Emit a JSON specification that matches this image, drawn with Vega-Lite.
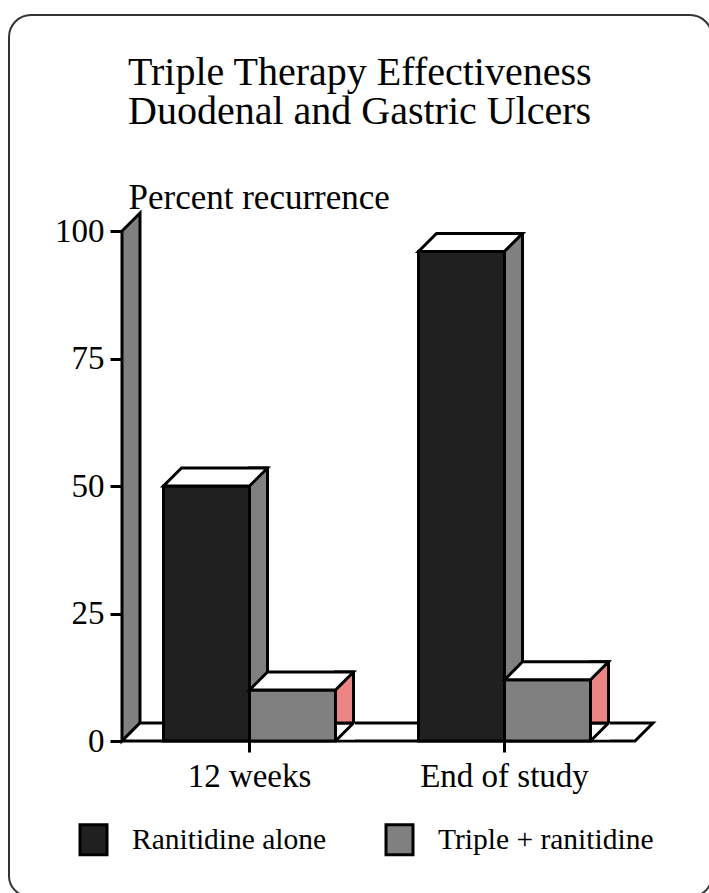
{
  "$schema": "https://vega.github.io/schema/vega-lite/v6.json",
  "width": 510,
  "height": 510,
  "autosize": "none",
  "padding": {"left": 122, "top": 231, "right": 77, "bottom": 152},
  "background": "white",
  "config": {
    "view": {"stroke": null},
    "font": "Liberation Serif",
    "axis": {"domain": false, "grid": false, "ticks": true, "tickColor": "black", "tickWidth": 3, "labelFont": "Liberation Serif", "labelColor": "black", "titleFont": "Liberation Serif", "titleColor": "black", "titleFontWeight": "normal"},
    "axisY": {"tickSize": 12, "labelFontSize": 33, "labelPadding": 6, "titleFontSize": 35, "titleAngle": 0, "titleAlign": "left", "titleBaseline": "alphabetic", "titleX": 6, "titleY": -23},
    "axisX": {"tickSize": 11, "labelFontSize": 33, "labelPadding": 8, "labelAngle": 0}
  },
  "title": {"text": ["Triple Therapy Effectiveness", "Duodenal and Gastric Ulcers"], "anchor": "start", "frame": "group", "font": "Liberation Serif", "fontSize": 40, "fontWeight": "normal", "color": "black", "lineHeight": 39, "dx": 6, "offset": -121},
  "data": {"values": [
    {"category": "12 weeks", "group": "Ranitidine alone", "value": 50},
    {"category": "12 weeks", "group": "Triple + ranitidine", "value": 10},
    {"category": "End of study", "group": "Ranitidine alone", "value": 96},
    {"category": "End of study", "group": "Triple + ranitidine", "value": 12}
  ]},
  "layer": [
    {
      "transform": [{"aggregate": [{"op": "count", "as": "n"}]}],
      "mark": {"type": "point", "shape": "M-91,-726L568,-726A22,22 0 0 1 590,-704L590,135A20,20 0 0 1 570,155L-93,155A20,20 0 0 1 -113,135L-113,-704A22,22 0 0 1 -91,-726Z", "size": 4, "filled": false, "stroke": "#333333", "strokeWidth": 2, "opacity": 1},
      "encoding": {
        "x": {"datum": "12 weeks", "type": "nominal", "bandPosition": 0},
        "y": {"datum": 0, "type": "quantitative"}
      }
    },
    {
      "transform": [{"aggregate": [{"op": "count", "as": "n"}]}],
      "mark": {"type": "point", "shape": "M0,0L0,-510L18,-528L18,-18Z", "size": 4, "filled": true, "fill": "#808080", "stroke": "black", "strokeWidth": 3, "opacity": 1},
      "encoding": {
        "x": {"datum": "12 weeks", "type": "nominal", "bandPosition": 0},
        "y": {"datum": 0, "type": "quantitative"}
      }
    },
    {
      "transform": [{"aggregate": [{"op": "count", "as": "n"}]}],
      "mark": {"type": "point", "shape": "M0,0L513,0L531,-18L18,-18Z", "size": 4, "filled": true, "fill": "white", "stroke": "black", "strokeWidth": 3, "opacity": 1},
      "encoding": {
        "x": {"datum": "12 weeks", "type": "nominal", "bandPosition": 0},
        "y": {"datum": 0, "type": "quantitative"}
      }
    },
    {
      "transform": [{"filter": "datum.group == 'Ranitidine alone'"}],
      "mark": {"type": "bar", "width": 18, "xOffset": 9, "yOffset": -18, "fill": "#808080", "stroke": "black", "strokeWidth": 3},
      "encoding": {
        "x": {"field": "category", "type": "nominal"},
        "y": {"field": "value", "type": "quantitative"}
      }
    },
    {
      "transform": [{"filter": "datum.group == 'Triple + ranitidine'"}],
      "mark": {"type": "bar", "width": 18, "xOffset": 95, "yOffset": -18, "fill": "#ee8585", "stroke": "black", "strokeWidth": 3},
      "encoding": {
        "x": {"field": "category", "type": "nominal"},
        "y": {"field": "value", "type": "quantitative"}
      }
    },
    {
      "mark": {"type": "point", "shape": "M46,-1.5L62.5,-18L62.5,-1.5Z", "size": 4, "filled": true, "fill": "white", "strokeWidth": 0, "opacity": 1},
      "encoding": {
        "x": {"field": "category", "type": "nominal"},
        "xOffset": {"field": "group", "type": "nominal"},
        "y": {"datum": 0, "type": "quantitative"}
      }
    },
    {
      "mark": {"type": "point", "shape": "M43,0L61,-18", "size": 4, "filled": false, "stroke": "black", "strokeWidth": 3, "opacity": 1},
      "encoding": {
        "x": {"field": "category", "type": "nominal"},
        "xOffset": {"field": "group", "type": "nominal"},
        "y": {"datum": 0, "type": "quantitative"}
      }
    },
    {
      "mark": {"type": "bar", "stroke": "black", "strokeWidth": 3, "opacity": 1},
      "encoding": {
        "x": {"field": "category", "type": "nominal", "title": null, "scale": {"paddingInner": 0, "paddingOuter": 0}},
        "xOffset": {"field": "group", "type": "nominal", "scale": {"paddingInner": 0, "paddingOuter": 0.4826}},
        "y": {"field": "value", "type": "quantitative", "title": "Percent recurrence", "scale": {"domain": [0, 100], "nice": false}, "axis": {"values": [0, 25, 50, 75, 100]}},
        "color": {"field": "group", "type": "nominal", "scale": {"domain": ["Ranitidine alone", "Triple + ranitidine"], "range": ["#202020", "#808080"]},
          "legend": {"orient": "none", "legendX": -45, "legendY": 592, "direction": "horizontal", "title": null, "symbolType": "M-0.9,-1L0.9,-1L0.9,1L-0.9,1Z", "symbolSize": 900, "symbolStrokeColor": "black", "symbolStrokeWidth": 3, "symbolOpacity": 1, "labelFont": "Liberation Serif", "labelFontSize": 29.5, "labelColor": "black", "labelOffset": 22, "labelLimit": 0, "columnPadding": 53, "padding": 0}}
      }
    },
    {
      "mark": {"type": "point", "shape": "M-43,0L43,0L61,-18L-25,-18Z", "size": 4, "filled": true, "fill": "white", "stroke": "black", "strokeWidth": 3, "opacity": 1},
      "encoding": {
        "x": {"field": "category", "type": "nominal"},
        "xOffset": {"field": "group", "type": "nominal"},
        "y": {"field": "value", "type": "quantitative"}
      }
    }
  ]
}
